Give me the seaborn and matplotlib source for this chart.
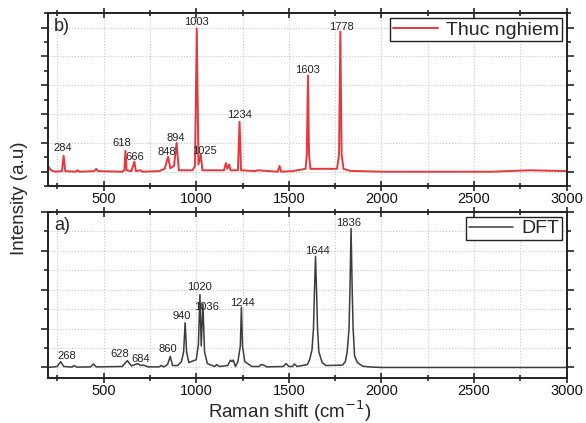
import matplotlib
matplotlib.use("Agg")
import matplotlib.pyplot as plt
from matplotlib.ticker import MultipleLocator, NullFormatter
import seaborn as sns
import pandas as pd

exp_shift = [200, 215, 240, 275, 284, 293, 350, 360, 370, 450, 460, 470,
             600, 612, 618, 624, 650, 666, 674, 700, 710, 800, 830, 848,
             860, 880, 894, 906, 980, 993, 1003, 1012, 1025, 1033, 1150,
             1160, 1168, 1178, 1185, 1225, 1234, 1242, 1320, 1330, 1440,
             1450, 1458, 1520, 1590, 1597, 1603, 1609, 1616, 1760, 1771,
             1778, 1785, 1795, 1830, 2000, 2600, 2800, 3000]
exp_int = [0.4, 0.1, 0.0, 0.04, 1.1, 0.04, 0.0, 0.1, 0.0, 0.04, 0.2, 0.04,
           0.0, 0.1, 1.46, 0.1, 0.04, 0.7, 0.04, 0.1, 0.0, 0.04, 0.2, 1.04,
           0.24, 0.4, 2.0, 0.1, 0.1, 0.4, 9.93, 0.5, 1.18, 0.1, 0.1,
           0.6, 0.2, 0.5, 0.1, 0.1, 3.47, 0.1, 0.04, 0.1, 0.0,
           0.4, 0.0, 0.04, 0.2, 1.2, 6.67, 1.2, 0.2, 0.2, 1.2,
           9.72, 1.2, 0.2, 0.06, 0.0, 0.0, 0.1, 0.04]

# DFT spectrum (panel a)
dft_shift = [200, 250, 268, 285, 330, 340, 355, 430, 445, 460, 600, 628,
             650, 684, 700, 715, 740, 800, 810, 825, 845, 860, 872, 900,
             920, 932, 940, 948, 960, 1000, 1012, 1020, 1027, 1036, 1045, 1060, 1100,
             1110, 1125, 1170, 1185, 1193, 1200, 1212, 1225, 1238, 1244, 1250, 1262,
             1300, 1340, 1350, 1365, 1380, 1470, 1485, 1500, 1520, 1530,
             1545, 1600, 1612, 1625, 1633, 1638, 1644, 1650, 1655, 1662, 1680, 1700,
             1790, 1805, 1815, 1825, 1830, 1836, 1842, 1847, 1855, 1870, 1900,
             1950, 2000, 3000]
dft_int = [0.0, 0.05, 0.3, 0.05, 0.02, 0.1, 0.02, 0.03, 0.18, 0.03, 0.05, 0.35,
           0.08, 0.2, 0.1, 0.12, 0.03, 0.03, 0.1, 0.03, 0.15, 0.57, 0.1, 0.1,
           0.3, 0.8, 2.3, 0.8, 0.25, 0.4, 1.2, 3.75, 1.1, 3.27, 0.8, 0.2, 0.05,
           0.15, 0.05, 0.1, 0.38, 0.3, 0.38, 0.05, 0.3, 1.1, 3.1, 1.1, 0.3,
           0.05, 0.05, 0.15, 0.12, 0.03, 0.05, 0.2, 0.05, 0.05, 0.18,
           0.05, 0.15, 0.4, 0.9, 2.0, 3.8, 5.7, 3.8, 2.0, 0.8, 0.25, 0.1,
           0.12, 0.3, 0.8, 2.0, 4.0, 7.15, 4.0, 2.0, 0.6, 0.25, 0.06,
           0.02, 0.0, 0.0]

exp_peaks = [284, 618, 666, 848, 894, 1003, 1025, 1234, 1603, 1778]
dft_peaks = [268, 628, 684, 860, 940, 1020, 1036, 1244, 1644, 1836]

sns.set_style("ticks")
plt.rcParams["font.family"] = ["Liberation Sans", "DejaVu Sans"]

fig = plt.figure(figsize=(5.86, 4.23), dpi=100)
ax_b = fig.add_axes([0.082, 0.560, 0.885, 0.409])
ax_a = fig.add_axes([0.082, 0.106, 0.885, 0.393])

red = "#e8373c"
dark = "#3c3c3c"

df_exp = pd.DataFrame({"shift": exp_shift, "intensity": exp_int})
df_dft = pd.DataFrame({"shift": dft_shift, "intensity": dft_int})

sns.lineplot(data=df_exp, x="shift", y="intensity", ax=ax_b, color=red,
             lw=1.4, label="Thuc nghiem")
sns.lineplot(data=df_dft, x="shift", y="intensity", ax=ax_a, color=dark,
             lw=1.1, label="DFT")

# label offsets (x, y) in data units, relative to the peak top
exp_off = {284: (-7, 0.55), 618: (-19, 0.5), 666: (4, 0.35), 848: (-6, 0.3),
           894: (-2, 0.36), 1003: (0, 0.42), 1025: (18, 0.28), 1234: (0, 0.47),
           1603: (-4, 0.39), 1778: (4, 0.35)}
dft_off = {268: (33, 0.29), 628: (-39, 0.35), 684: (17, 0.22), 860: (-13, 0.38),
           940: (-17, 0.37), 1020: (-4, 0.37), 1036: (18, -0.15), 1244: (3, 0.22),
           1644: (12, 0.3), 1836: (-13, 0.27)}

for ax, peaks, shifts, ints, offs in [(ax_b, exp_peaks, exp_shift, exp_int, exp_off),
                                      (ax_a, dft_peaks, dft_shift, dft_int, dft_off)]:
    for p in peaks:
        h = ints[shifts.index(p)]
        dx, dy = offs[p]
        ax.text(p + dx, h + dy, str(p), ha="center", va="center",
                fontsize=8, color="#222222")

ax_b.set_ylim(-1, 11)
ax_a.set_ylim(-0.55, 8.0)

for ax, lab in [(ax_b, "b)"), (ax_a, "a)")]:
    ax.set_xlim(200, 3000)
    ax.xaxis.set_major_locator(MultipleLocator(500))
    ax.xaxis.set_minor_locator(MultipleLocator(250))
    ax.yaxis.set_major_locator(MultipleLocator(2))
    ax.yaxis.set_minor_locator(MultipleLocator(1))
    ax.yaxis.set_major_formatter(NullFormatter())
    ax.set_xlabel("")
    ax.set_ylabel("")
    ax.tick_params(axis="x", which="both", direction="inout", labelsize=10.5,
                   top=True, width=1.2, pad=0.5, labelcolor="#111111")
    ax.tick_params(axis="x", which="major", length=7)
    ax.tick_params(axis="x", which="minor", length=4)
    ax.tick_params(axis="y", which="both", direction="out", right=True, width=1.2)
    ax.tick_params(axis="y", which="major", length=5)
    ax.tick_params(axis="y", which="minor", length=3)
    ax.grid(True, axis="x", which="both", ls=":", color="#c8c8c8", lw=0.8)
    for sp in ax.spines.values():
        sp.set_linewidth(1.4)
        sp.set_color("#222222")
    ax.text(0.012, 0.92, lab, transform=ax.transAxes, fontsize=13, va="center")
    leg = ax.legend(loc="upper right", fontsize=14, frameon=True, fancybox=False,
                    handlelength=2.3, borderpad=0.15, borderaxespad=0.25,
                    handletextpad=0.4, framealpha=1)
    leg.get_frame().set_edgecolor("#222222")
    leg.get_frame().set_linewidth(1.0)

ax_b.grid(True, axis="y", which="major", ls=":", color="#c8c8c8", lw=0.8)
ax_a.grid(True, axis="y", which="both", ls=":", color="#c8c8c8", lw=0.8)

fig.text(0.034, 0.532, "Intensity (a.u)", rotation=90, ha="center",
         va="center", fontsize=13.5)
fig.text(0.495, 0.012, "Raman shift (cm$^{-1}$)", ha="center", va="baseline",
         fontsize=13.5)

fig.savefig("out.png", dpi=100)
